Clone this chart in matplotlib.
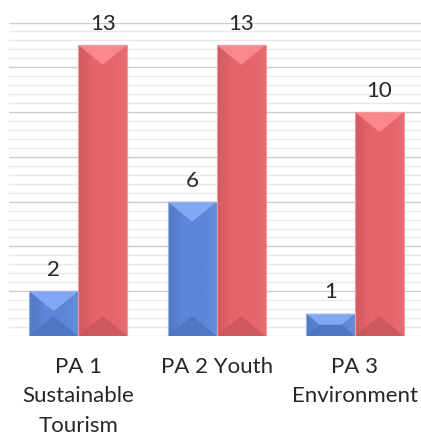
import numpy as np
import matplotlib
matplotlib.use("Agg")
import matplotlib.pyplot as plt
from matplotlib.patches import Polygon, Rectangle
from matplotlib.colors import to_rgb

# ----------------------
# Data
# ----------------------
categories = ["PA 1\nSustainable\nTourism", "PA 2 Youth", "PA 3\nEnvironment"]
series_blue = [2, 6, 1]
series_red = [13, 13, 10]

BLUE = {"body": "#5b86d9", "top": "#88acf7", "bottom": "#4a70bd"}
RED = {"body": "#e6646b", "top": "#fc8b90", "bottom": "#c4535a"}

plt.rcParams["font.family"] = ["Lato", "DejaVu Sans"]

FIG_W, FIG_H = 421, 433
fig = plt.figure(figsize=(FIG_W / 100, FIG_H / 100), dpi=100)

# plot area: baseline 336 px from the top, value 14 at 22.5 px from the top
ax = fig.add_axes([9 / FIG_W, 97 / FIG_H, 412 / FIG_W, 313.5 / FIG_H])
ax.set_xlim(-0.5, 2.477)
ax.set_ylim(0, 14)

px_per_unit = 313.5 / 14
bevel = 20 / px_per_unit
width = 0.354

# major gridlines every 2, minor every 0.4
for y in np.arange(0, 14.01, 0.4):
    major = abs(y / 2 - round(y / 2)) < 1e-6
    ax.axhline(y, color="#cccccc" if major else "#e9e9e9", lw=1.0, zorder=0)


def shade(c, k):
    r, g, b = to_rgb(c)
    if k < 0:
        return (r * (1 + k), g * (1 + k), b * (1 + k))
    return (r + (1 - r) * k, g + (1 - g) * k, b + (1 - b) * k)


def bevel_bar(ax, xc, h, pal):
    x0, x1 = xc - width / 2, xc + width / 2
    rect = Rectangle((x0, 0), width, h, facecolor=pal["body"], edgecolor="none", zorder=2)
    ax.add_patch(rect)

    # horizontal shading across the bar face
    t = np.linspace(0, 1, 60)
    k = np.interp(t, [0, 0.15, 0.3, 0.7, 1], [-0.09, -0.06, 0.0, 0.0, 0.05])
    grad = np.array([[shade(pal["body"], kk) for kk in k]])
    im = ax.imshow(grad, extent=(x0, x1, 0, h), aspect="auto", zorder=2.1,
                   interpolation="bilinear")
    im.set_clip_path(rect)

    # bevelled top and bottom faces
    d = min(bevel, h / 2)
    inner = width / 2 * (1 - d / bevel)
    top = Polygon([(x0, h), (x1, h), (xc + inner, h - d), (xc - inner, h - d)],
                  closed=True, facecolor=pal["top"], edgecolor="none", alpha=0.9, zorder=3)
    bot = Polygon([(x0, 0), (x1, 0), (xc + inner, d), (xc - inner, d)],
                  closed=True, facecolor=pal["bottom"], edgecolor="none", alpha=0.7, zorder=3)
    ax.add_patch(top)
    ax.add_patch(bot)
    ax.add_patch(Rectangle((x0, 0), width, h, facecolor="none",
                           edgecolor=shade(pal["body"], 0.35), lw=0.8, zorder=4))

    ax.annotate(f"{h}", (xc, h), xytext=(0, 8), textcoords="offset points",
                ha="center", va="bottom", fontsize=16, color="#262626")


x = np.arange(len(categories))
for i in x:
    bevel_bar(ax, i - width / 2, series_blue[i], BLUE)
    bevel_bar(ax, i + width / 2, series_red[i], RED)

ax.set_xticks(x)
ax.set_xticklabels(categories, fontsize=16, color="#262626", linespacing=1.6)
ax.tick_params(axis="x", length=0, pad=15)
ax.set_yticks([])
for s in ax.spines.values():
    s.set_visible(False)

fig.savefig("out.png", dpi=100)
